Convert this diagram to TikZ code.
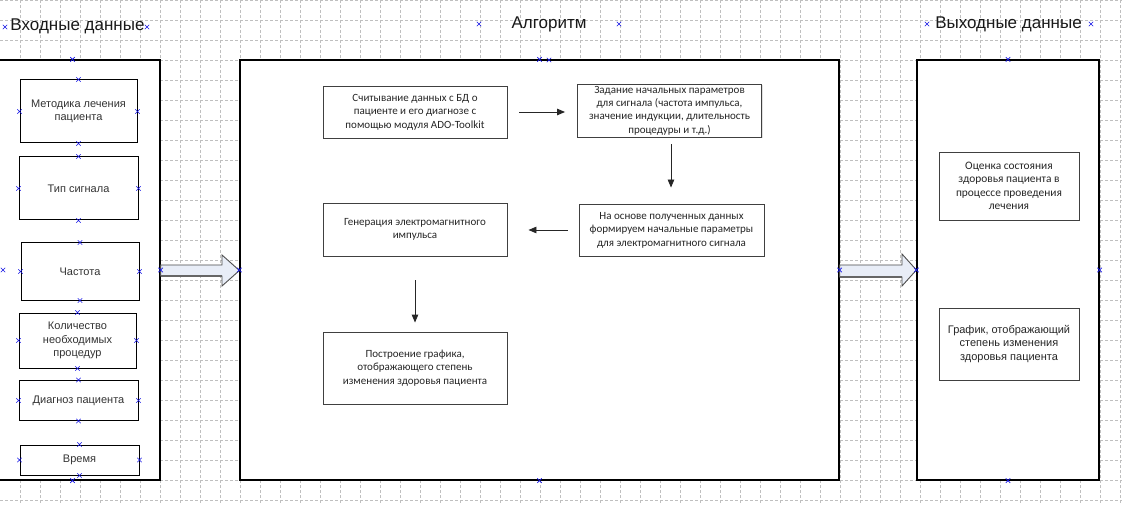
\documentclass[tikz,border=0pt]{standalone}
\usepackage{fontspec}
\setmainfont{Liberation Sans}
\newfontfamily\calib{Carlito}
\usetikzlibrary{arrows.meta,shadows}
\tikzset{
  gridline/.style={gray!50, line width=0.6pt, dash pattern=on 3pt off 2pt},
  outerbox/.style={draw=black, fill=white, line width=1.2pt},
  lbox/.style={draw=black, fill=white, line width=1pt, inner sep=0pt, align=center,
     font=\fontsize{11}{13.3}\selectfont, text=black!80},
  abox/.style={draw=black!75, fill=white, line width=0.9pt, inner sep=0pt, align=center,
     font=\calib\fontsize{11}{13.4}\selectfont, text=black!85,
     drop shadow={shadow xshift=1.2pt, shadow yshift=-1.2pt, fill=gray!30, opacity=0.8}},
  obox/.style={draw=black!75, fill=white, line width=0.9pt, inner sep=0pt, align=center,
     font=\fontsize{11}{13.3}\selectfont, text=black!85,
     drop shadow={shadow xshift=1.2pt, shadow yshift=-1.2pt, fill=gray!30, opacity=0.8}},
  title/.style={inner sep=0pt, font=\fontsize{17}{18}\selectfont, text=black!90},
  flow/.style={draw=black!85, line width=0.9pt, -{Triangle[length=8pt,width=6.5pt]}},
  fat/.style={draw=black!70, fill={rgb,255:red,232;green,237;blue,247}, line width=0.9pt, line join=miter},
  cptstyle/.style={draw={rgb,255:red,20;green,20;blue,230}, line width=0.6pt},
}
\newcommand{\cpt}[1]{\draw[cptstyle] ([shift={(-2.2,-2.2)}]#1) -- ([shift={(2.2,2.2)}]#1) ([shift={(-2.2,2.2)}]#1) -- ([shift={(2.2,-2.2)}]#1);}
\begin{document}
\begin{tikzpicture}[x=1pt,y=-1pt]
\useasboundingbox (0,0) rectangle (1122,505);
\clip (0,0) rectangle (1122,505);
\fill[white] (0,0) rectangle (1122,505);
% grid
\foreach \gx in {20,40,...,1120} \draw[gridline] (\gx,0) -- (\gx,505);
\foreach \gy in {0,20,...,500} \draw[gridline] (0,\gy) -- (1122,\gy);

% outer frames
\node[outerbox, minimum width=175pt, minimum height=420pt, inner sep=0pt] (inframe) at (72.5,270) {};
\node[outerbox, minimum width=599pt, minimum height=420pt, inner sep=0pt] (algframe) at (539.5,270) {};
\node[outerbox, minimum width=182pt, minimum height=420pt, inner sep=0pt] (outframe) at (1008,270) {};

% titles
\node[title] (tin) at (77.5,26) {Входные данные};
\node[title] (talg) at (549,24) {Алгоритм};
\node[title] (tout) at (1008.5,24) {Выходные данные};

% input boxes
\node[lbox, minimum width=117pt, minimum height=63pt] (m1) at (78.5,111.5) {Методика лечения\\пациента};
\node[lbox, minimum width=119pt, minimum height=63pt] (m2) at (78.5,188.5) {Тип сигнала};
\node[lbox, minimum width=118pt, minimum height=57pt] (m3) at (80,271.5) {Частота};
\node[lbox, minimum width=117pt, minimum height=55pt] (m4) at (77.5,340.5) {Количество\\необходимых\\процедур};
\node[lbox, minimum width=119pt, minimum height=40pt] (m5) at (78.5,400.5) {Диагноз пациента};
\node[lbox, minimum width=119pt, minimum height=30pt] (m6) at (79.5,460) {Время};

% algorithm boxes
\node[abox, minimum width=184pt, minimum height=52pt] (a1) at (415,112) {Считывание данных с БД о\\пациенте и его диагнозе с\\помощью модуля ADO-Toolkit};
\node[abox, minimum width=184pt, minimum height=53pt] (a2) at (669.5,110.5) {Задание начальных параметров\\для сигнала (частота импульса,\\значение индукции, длительность\\процедуры и т.д.)};
\node[abox, minimum width=184pt, minimum height=53pt] (a3) at (415,229.5) {Генерация электромагнитного\\импульса};
\node[abox, minimum width=185pt, minimum height=52pt] (a4) at (671.5,230) {На основе полученных данных\\формируем начальные параметры\\для электромагнитного сигнала};
\node[abox, minimum width=184pt, minimum height=72pt] (a5) at (415,368) {Построение графика,\\отображающего степень\\изменения здоровья пациента};

% output boxes
\node[abox, minimum width=140pt, minimum height=68pt, font=\calib\fontsize{11.4}{13.5}\selectfont] (o1) at (1009,186) {Оценка состояния\\здоровья пациента в\\процессе проведения\\лечения};
\node[obox, minimum width=140pt, minimum height=72pt] (o2) at (1009,344) {График, отображающий\\степень изменения\\здоровья пациента};

% flow arrows
\draw[flow, shorten <=12pt, shorten >=12pt] (a1.east) -- (a1.east -| a2.west);
\draw[flow, shorten <=7pt, shorten >=16pt] (a2.south -| 671,0) -- (a4.north -| 671,0);
\draw[flow, shorten <=11pt, shorten >=21pt] (a4.west) -- (a4.west -| a3.east);
\draw[flow, shorten <=24pt, shorten >=9pt] (a3.south) -- (a5.north);

% fat arrows
\draw[fat] (inframe.east |- 0,265) -- (222,265) -- (222,255) -- (algframe.west |- 0,270.5) -- (222,286) -- (222,276) -- (inframe.east |- 0,276) -- cycle;
\draw[black!60, line width=1.6pt] (inframe.east |- 0,276) -- (222,276);
\draw[fat] (algframe.east |- 0,265) -- (902,265) -- (902,254) -- (outframe.west |- 0,270) -- (902,286) -- (902,277) -- (algframe.east |- 0,277) -- cycle;
\draw[black!60, line width=1.6pt] (algframe.east |- 0,277) -- (902,277);

% connection points
\cpt{5,27} \cpt{147,27}
\cpt{479,24} \cpt{619,24}
\cpt{927,24} \cpt{1091,24}
\foreach \n in {m1,m2,m3,m4,m5,m6,inframe,algframe,outframe} {
  \cpt{\n.north} \cpt{\n.south} \cpt{\n.east} \cpt{\n.west}
}
\cpt{549,60}
\cpt{3,270}
\end{tikzpicture}
\end{document}
